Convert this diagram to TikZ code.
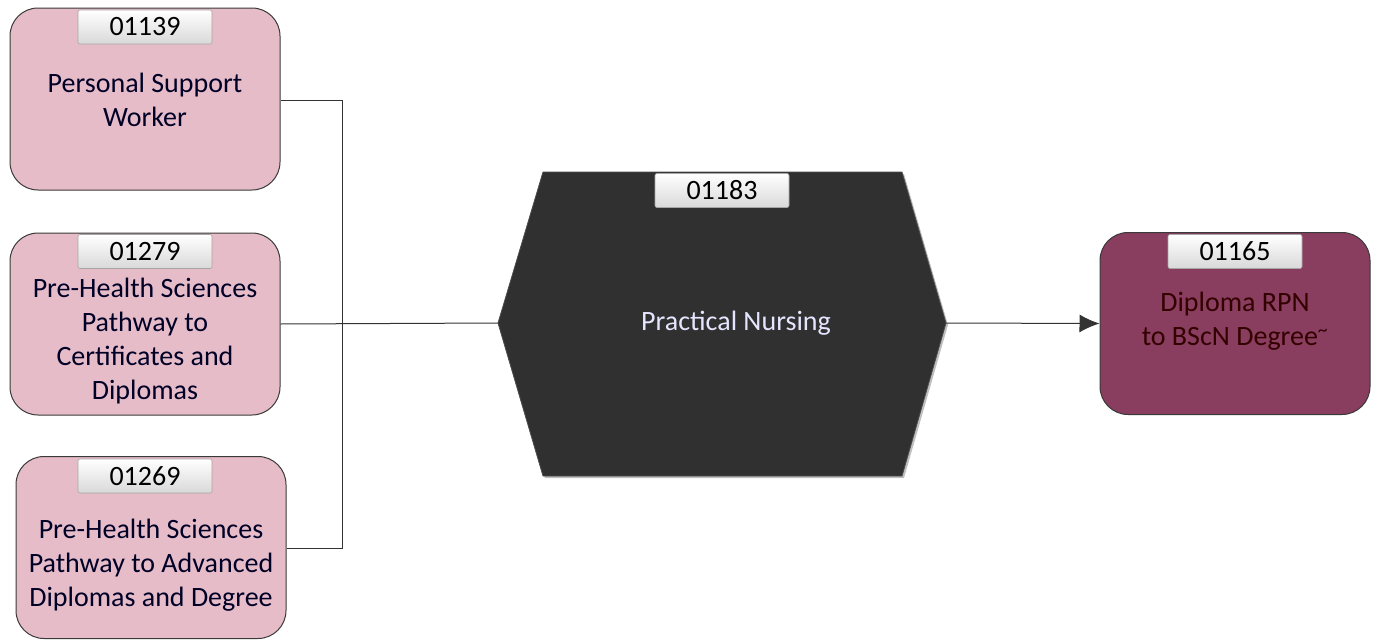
\documentclass[tikz,border=0pt]{standalone}
\usepackage{fontspec}
\setmainfont{Carlito}
\usetikzlibrary{arrows.meta}
\definecolor{pinkfill}{HTML}{E6BCC9}
\definecolor{plumfill}{HTML}{893D5F}
\definecolor{hexfill}{HTML}{303030}
\definecolor{edgegray}{HTML}{3A3A3A}
\begin{document}
\begin{tikzpicture}[x=1pt,y=-1pt,
  progbox/.style={draw=edgegray, line width=1pt, rounded corners=28pt, minimum width=270pt, minimum height=182pt, inner sep=0pt},
  tagbox/.style={draw=gray!70, line width=0.6pt, rounded corners=2pt, minimum width=134pt, minimum height=34pt, top color=white, bottom color=gray!30, inner sep=0pt, font=\fontsize{28}{30}\selectfont},
  lbl/.style={align=center, font=\fontsize{28}{34}\selectfont, text=black!85!blue},
  conn/.style={draw=black!80, line width=1pt},
  every node/.style={anchor=center}]
\useasboundingbox (0,0) rectangle (1374,640);
% left boxes
\node[progbox, fill=pinkfill] (b1) at (145,99) {};
\node[tagbox] (t1) at (145,27) {01139};
\node[lbl] (l1) at (145,100) {Personal Support\\Worker};
\node[progbox, fill=pinkfill] (b2) at (145,324) {};
\node[tagbox] (t2) at (145,251.5) {01279};
\node[lbl] (l2) at (145,341) {Pre-Health Sciences\\Pathway to\\Certificates and\\Diplomas};
\node[progbox, fill=pinkfill] (b3) at (151,547.5) {};
\node[tagbox] (t3) at (145,476) {01269};
\node[lbl] (l3) at (151,565.5) {Pre-Health Sciences\\Pathway to Advanced\\Diplomas and Degree};
% hexagon
\coordinate (hexL) at (498,323);
\coordinate (hexR) at (946,323);
\fill[black!25] (545,174) -- (904,174) -- (948,325) -- (904,478) -- (545,478) -- (500,325) -- cycle;
\draw[fill=hexfill, draw=black!70, line width=0.8pt] (543,172) -- (902,172) -- (hexR) -- (902,476) -- (543,476) -- (hexL) -- cycle;
\node[tagbox] (t4) at (722,190.5) {01183};
\node[lbl, text=white!90!blue] (l4) at (736,323) {Practical Nursing};
% right box
\node[progbox, fill=plumfill] (b4) at (1235,323.5) {};
\node[tagbox] (t5) at (1235,251.5) {01165};
\node[lbl, text=black!80!red] (l5) at (1235,321) {Diploma RPN\\to BScN Degree\textsuperscript{\textasciitilde}};
% connectors
\draw[conn] (b1.east |- 0,100) -- (342,100) |- (b3.east |- 0,548);
\draw[conn] (b2.east) -- (hexL);
\draw[conn, -{Latex[length=20pt,width=18pt]}] (hexR) -- (b4.west);
\end{tikzpicture}
\end{document}
